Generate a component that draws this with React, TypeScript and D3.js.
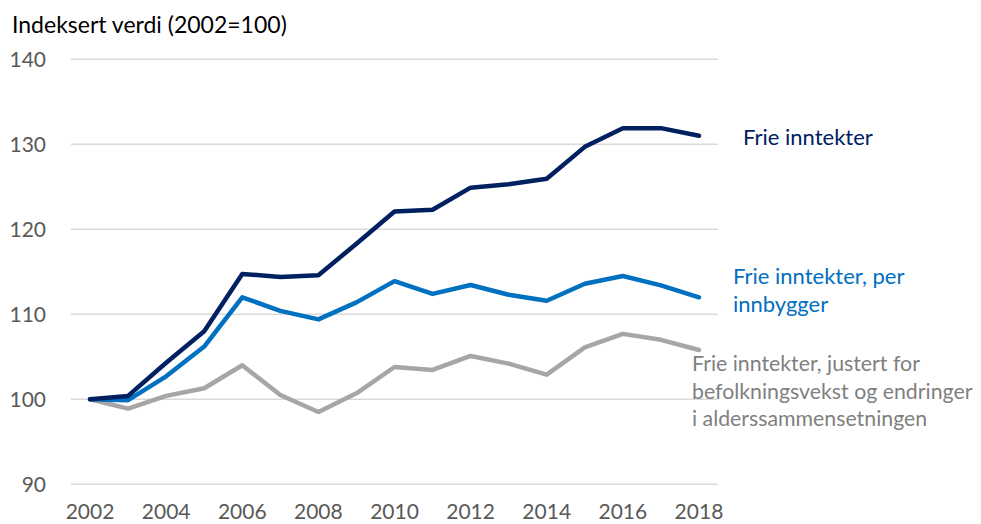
import React from "react";
import * as d3 from "d3";

const years = ["2002","2003","2004","2005","2006","2007","2008","2009","2010","2011","2012","2013","2014","2015","2016","2017","2018"];
const frieInntekter = [100, 100.4, 104.3, 108.0, 114.75, 114.4, 114.6, 118.3, 122.1, 122.3, 124.9, 125.3, 125.95, 129.7, 131.9, 131.9, 131.0];
const perInnbygger = [100, 99.9, 102.7, 106.2, 112.0, 110.4, 109.4, 111.4, 113.9, 112.4, 113.45, 112.3, 111.6, 113.6, 114.5, 113.4, 112.0];
const justert = [100, 98.9, 100.4, 101.3, 104.0, 100.5, 98.5, 100.7, 103.8, 103.45, 105.1, 104.2, 102.9, 106.1, 107.7, 107.0, 105.8];
const yTicks = [90, 100, 110, 120, 130, 140];
const xTickLabels = ["2002","2004","2006","2008","2010","2012","2014","2016","2018"];

const seriesList = [
  { name: "justert", values: justert, color: "#a6a6a6" },
  { name: "perInnbygger", values: perInnbygger, color: "#0070c0" },
  { name: "frie", values: frieInntekter, color: "#002060" },
];

const labels = [
  { lines: ["Frie inntekter"], color: "#002060", x: 743, y: 145, size: 22 },
  { lines: ["Frie inntekter, per", "innbygger"], color: "#0070c0", x: 733, y: 284, size: 22 },
  { lines: ["Frie inntekter, justert for", "befolkningsvekst og endringer", "i alderssammensetningen"], color: "#7f7f7f", x: 692, y: 371, size: 21.3 },
];

const W = 981;
const H = 524;
const FONT = "Lato, 'Open Sans', sans-serif";

export default function App() {
  const x = d3.scaleBand<string>().domain(years).range([71, 718]);
  const cx = (yr: string) => (x(yr) as number) + x.bandwidth() / 2;
  const y = d3.scaleLinear().domain([90, 140]).range([484.3, 59.3]);
  const line = d3
    .line<number>()
    .x((_, i) => cx(years[i]))
    .y((d) => y(d));

  return (
    <div style={{ position: "absolute", left: 0, top: 0 }}>
      <svg width={W} height={H} style={{ display: "block" }} fontFamily={FONT}>
        <rect width={W} height={H} fill="#ffffff" />
        <text x={12} y={33} fontSize={23} fill="#000000">Indeksert verdi (2002=100)</text>
        {yTicks.map((t) => (
          <g key={t}>
            <line x1={71} x2={718} y1={y(t)} y2={y(t)} stroke="#d9d9d9" strokeWidth={1.5} />
            <text x={46} y={y(t) + 7.5} textAnchor="end" fontSize={21} fill="#595959">{t}</text>
          </g>
        ))}
        {xTickLabels.map((yr) => (
          <text key={yr} x={cx(yr)} y={519} textAnchor="middle" fontSize={21} fill="#595959">{yr}</text>
        ))}
        {seriesList.map((s) => (
          <path key={s.name} d={line(s.values) || ""} fill="none" stroke={s.color} strokeWidth={4.5} strokeLinejoin="round" strokeLinecap="round" />
        ))}
        {labels.map((l, i) => (
          <text key={i} x={l.x} y={l.y} fontSize={l.size} fill={l.color}>
            {l.lines.map((ln, j) => (
              <tspan key={j} x={l.x} dy={j === 0 ? 0 : 27.5}>{ln}</tspan>
            ))}
          </text>
        ))}
      </svg>
    </div>
  );
}
